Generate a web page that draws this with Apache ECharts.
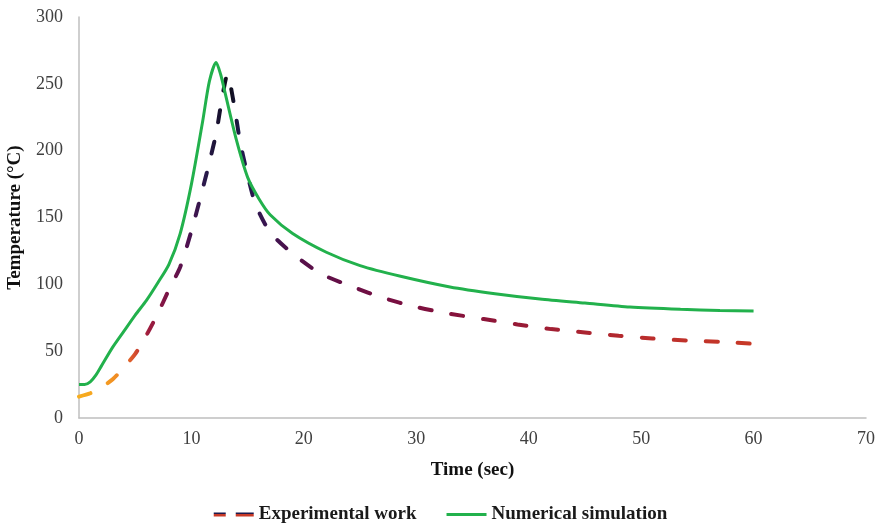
<!DOCTYPE html>
<html><head><meta charset="utf-8">
<script src="https://cdn.jsdelivr.net/npm/echarts@6/dist/echarts.min.js"></script>
<style>html,body{margin:0;padding:0;background:#fff}#c{width:881px;height:529px}</style>
</head><body><div id="c"></div>
<script>
// Experimental work (time s, temperature °C)
var expTime = [0, 1, 2, 3, 4, 5, 6, 7, 8, 9, 10, 10.8, 11.5, 12.2, 12.7, 13.2, 13.8, 14.3, 14.9, 15.7, 17, 19, 21.5, 24.4, 27, 30, 33, 36, 39, 42, 45, 48, 51, 54, 57, 60];
var expTemp = [16, 18.5, 23, 29, 38, 48, 62, 78, 96, 113, 140, 165, 188, 213, 238, 257, 234, 208, 185, 160, 139, 123, 108, 98, 90, 83, 78, 74, 70, 66.5, 64, 61.5, 59.5, 58, 57, 55.5];
// Numerical simulation
var numTime = [0, 0.5, 1, 1.5, 2, 3, 4, 5, 6, 7, 8, 9, 10, 11, 11.6, 12.2, 12.6, 13, 14, 15, 16, 17, 19, 22, 25, 28.6, 33, 37, 41, 45, 49, 53.5, 57, 60];
var numTemp = [25, 25, 27, 32, 39, 53, 65, 77, 88, 101, 115, 138, 175, 222, 252, 266, 257, 243, 208, 180, 164, 152, 138, 124, 114, 106, 98, 93, 89, 86, 83, 81.3, 80.5, 80];
var xTicks = {min: 0, max: 70, interval: 10};
var yTicks = {min: 0, max: 300, interval: 50};

function pairs(a, b) { return a.map(function (v, i) { return [v, b[i]]; }); }

var serif = '"Liberation Serif","Times New Roman",serif';
var expGrad = new echarts.graphic.LinearGradient(0, 0, 1, 0, [
  {offset: 0, color: '#F7AE1E'},
  {offset: 0.04, color: '#F5A021'},
  {offset: 0.065, color: '#EE8526'},
  {offset: 0.085, color: '#D8502E'},
  {offset: 0.105, color: '#A01D3E'},
  {offset: 0.135, color: '#781447'},
  {offset: 0.165, color: '#4C1150'},
  {offset: 0.19, color: '#2A1A4C'},
  {offset: 0.215, color: '#141028'},
  {offset: 0.225, color: '#0c0c14'},
  {offset: 0.24, color: '#1E1A4C'},
  {offset: 0.28, color: '#3A1450'},
  {offset: 0.33, color: '#56104A'},
  {offset: 0.45, color: '#750E42'},
  {offset: 0.6, color: '#8C1539'},
  {offset: 0.72, color: '#A62132'},
  {offset: 0.85, color: '#BC2E2C'},
  {offset: 1, color: '#C83A27'}
]);

var chart = echarts.init(document.getElementById('c'), null, {renderer: 'canvas'});
chart.setOption({
  animation: false,
  backgroundColor: '#fff',
  grid: {left: 79, right: 15, top: 17, bottom: 111, containLabel: false, outerBoundsMode: 'none'},
  legend: {
    bottom: 0, left: 'center',
    itemWidth: 40, itemHeight: 6, itemGap: 30,
    textStyle: {fontFamily: serif, fontSize: 19, fontWeight: 'bold', color: '#1a1a1a'},
    data: [
      {name: 'Experimental work', icon: 'path://M0,0 L12,0 L12,4 L0,4 Z M22,0 L40,0 L40,4 L22,4 Z', itemStyle: {color: new echarts.graphic.LinearGradient(0, 0, 0, 1, [{offset: 0, color: '#1E1A4C'}, {offset: 0.5, color: '#1E1A4C'}, {offset: 0.5, color: '#C83A27'}, {offset: 1, color: '#C83A27'}])}},
      {name: 'Numerical simulation', icon: 'path://M0,0 L40,0 L40,3 L0,3 Z', itemStyle: {color: '#22B14C'}}
    ]
  },
  xAxis: {
    type: 'value', min: xTicks.min, max: xTicks.max, interval: xTicks.interval,
    name: 'Time (sec)', nameLocation: 'middle', nameGap: 43,
    nameTextStyle: {fontFamily: serif, fontSize: 19, fontWeight: 'bold', color: '#111'},
    axisLine: {lineStyle: {color: '#BFBFBF', width: 1.5}},
    axisTick: {show: false},
    splitLine: {show: false},
    axisLabel: {fontFamily: serif, fontSize: 18, color: '#404040', margin: 12}
  },
  yAxis: {
    type: 'value', min: yTicks.min, max: yTicks.max, interval: yTicks.interval,
    name: 'Temperature (°C)', nameLocation: 'middle', nameGap: 54, nameRotate: 90,
    nameTextStyle: {fontFamily: serif, fontSize: 19, fontWeight: 'bold', color: '#111'},
    axisLine: {show: true, lineStyle: {color: '#BFBFBF', width: 1.5}},
    axisTick: {show: false},
    splitLine: {show: false},
    axisLabel: {fontFamily: serif, fontSize: 18, color: '#404040', margin: 16}
  },
  series: [
    {
      name: 'Experimental work', type: 'line', smooth: 0.25, showSymbol: false, symbol: 'none',
      data: pairs(expTime, expTemp),
      lineStyle: {color: expGrad, width: 4, type: [12, 20], cap: 'round'},
      itemStyle: {color: '#7A0F3F'}, z: 2
    },
    {
      name: 'Numerical simulation', type: 'line', smooth: 0.25, showSymbol: false, symbol: 'none',
      data: pairs(numTime, numTemp),
      lineStyle: {color: '#22B14C', width: 3},
      itemStyle: {color: '#22B14C'}, z: 3
    }
  ]
});
</script></body></html>
